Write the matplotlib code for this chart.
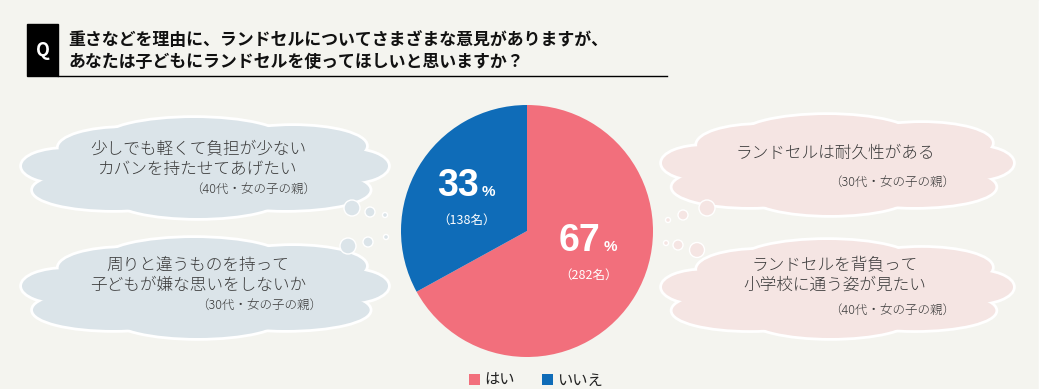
import matplotlib.pyplot as plt
from matplotlib.patches import Ellipse, Rectangle

plt.rcParams['font.family'] = ['Noto Sans CJK JP', 'DejaVu Sans']

# data
labels = ['はい', 'いいえ']
shares = [67, 33]
counts = [282, 138]
colors = ['#f26f7c', '#0f6cb8']

title_lines = ['重さなどを理由に、ランドセルについてさまざまな意見がありますが、',
               'あなたは子どもにランドセルを使ってほしいと思いますか？']

left_comments = [('少しでも軽くて負担が少ない\nカバンを持たせてあげたい', '（40代・女の子の親）'),
                 ('周りと違うものを持って\n子どもが嫌な思いをしないか', '（30代・女の子の親）')]
right_comments = [('ランドセルは耐久性がある', '（30代・女の子の親）'),
                  ('ランドセルを背負って\n小学校に通う姿が見たい', '（40代・女の子の親）')]

W, H = 1051, 389
BG = '#f4f4ef'

fig = plt.figure(figsize=(W / 100, H / 100), dpi=100, facecolor=BG)
bg = fig.add_axes([0, 0, 1, 1])
bg.set_xlim(0, W)
bg.set_ylim(H, 0)
bg.axis('off')
bg.add_patch(Rectangle((1039, 0), 12, H, color='white', zorder=0))

# title
bg.add_patch(Rectangle((27, 24), 31, 52, color='black', zorder=3))
bg.text(42.5, 50, 'Q', color='white', fontsize=13, fontweight='bold', ha='center', va='center', zorder=4)
bg.plot([58, 667], [76, 76], color='black', lw=1, zorder=3)
bg.text(68, 40, title_lines[0], fontsize=12.2, fontweight='bold', va='center', color='#111111')
bg.text(68, 62, title_lines[1], fontsize=12.2, fontweight='bold', va='center', color='#111111')

# cloud lobes: (cx, cy, w, h) relative to the cloud box
lobes = [(0.47, 0.22, 0.50, 0.44), (0.28, 0.30, 0.36, 0.40), (0.74, 0.28, 0.40, 0.40),
         (0.12, 0.48, 0.24, 0.34), (0.88, 0.48, 0.24, 0.34), (0.25, 0.72, 0.44, 0.40),
         (0.72, 0.72, 0.46, 0.40), (0.48, 0.80, 0.46, 0.40), (0.50, 0.50, 0.80, 0.60)]


def cloud(x0, y0, x1, y1, fc):
    w, h = x1 - x0, y1 - y0
    for cx, cy, ew, eh in lobes:
        bg.add_patch(Ellipse((x0 + cx * w, y0 + cy * h), ew * w, eh * h,
                             facecolor='white', edgecolor='white', lw=4, zorder=1))
    for cx, cy, ew, eh in lobes:
        bg.add_patch(Ellipse((x0 + cx * w, y0 + cy * h), ew * w, eh * h,
                             facecolor=fc, edgecolor='none', zorder=2))


def bubbles(pts, fc):
    for x, y, r in pts:
        bg.add_patch(Ellipse((x, y), 2 * r, 2 * r, facecolor=fc, edgecolor='white', lw=1, zorder=2))


blue_fc = '#dbe4e9'
pink_fc = '#f5e5e3'
txt_c = '#3a3a3a'

cloud(22, 118, 388, 218, blue_fc)
cloud(22, 238, 388, 338, blue_fc)
cloud(662, 115, 1013, 215, pink_fc)
cloud(662, 240, 1013, 338, pink_fc)

bubbles([(352, 208, 8), (370, 212, 5), (385, 215, 2.5)], blue_fc)
bubbles([(348, 246, 8), (368, 242, 5), (386, 237, 2.5)], blue_fc)
bubbles([(707, 208, 8), (683, 215, 5), (668, 220, 2.5)], pink_fc)
bubbles([(697, 250, 7.5), (678, 245, 5), (666, 243, 2.5)], pink_fc)

for (body, who), (cx, cy, ax_) in zip(left_comments, [(198, 159, 316), (198, 275, 322)]):
    bg.text(cx, cy, body, fontsize=12, fontweight='light', ha='center', va='center',
            color=txt_c, linespacing=1.25, zorder=5)
    bg.text(ax_, cy + 30, who, fontsize=9, fontweight='light', ha='right', va='center',
            color=txt_c, zorder=5)

for (body, who), (cx, cy, ax_, ay) in zip(right_comments, [(835, 153, 955, 182), (835, 275, 955, 310)]):
    bg.text(cx, cy, body, fontsize=12, fontweight='light', ha='center', va='center',
            color=txt_c, linespacing=1.25, zorder=5)
    bg.text(ax_, ay, who, fontsize=9, fontweight='light', ha='right', va='center',
            color=txt_c, zorder=5)

# pie
pcx, pcy, pr = 527, 231, 126
pie_ax = fig.add_axes([(pcx - pr) / W, (H - pcy - pr) / H, 2 * pr / W, 2 * pr / H])
pie_ax.set_facecolor('none')
wedges, _ = pie_ax.pie(shares, colors=colors, startangle=90, counterclock=False,
                       wedgeprops=dict(linewidth=0))
pie_ax.set_xlim(-1, 1)
pie_ax.set_ylim(-1, 1)

# labels in pixel coords
num_pos = [(580, 251, 610, 589, 275), (458, 196, 488, 467, 220)]
for share, cnt, (nx, ny, px, cx, cy) in zip(shares, counts, num_pos):
    bg.text(nx, ny, str(share), fontsize=27, fontweight='bold', color='white',
            ha='center', va='baseline', family='Liberation Sans', zorder=6)
    bg.text(px, ny, '%', fontsize=11, fontweight='bold', color='white',
            ha='center', va='baseline', family='Liberation Sans', zorder=6)
    bg.text(cx, cy, '（%d名）' % cnt, fontsize=9, color='white', ha='center', va='center', zorder=6)
bg.set_zorder(2)
bg.patch.set_visible(False)
pie_ax.set_zorder(1)

leg = fig.legend(wedges, labels, loc='center', bbox_to_anchor=(536 / W, 1 - 380 / H), ncol=2,
                 frameon=False, fontsize=11, handlelength=0.7, handleheight=0.7,
                 handletextpad=0.3, columnspacing=1.8, labelcolor='#222222')

fig.savefig('out.png', dpi=100, facecolor=BG)
